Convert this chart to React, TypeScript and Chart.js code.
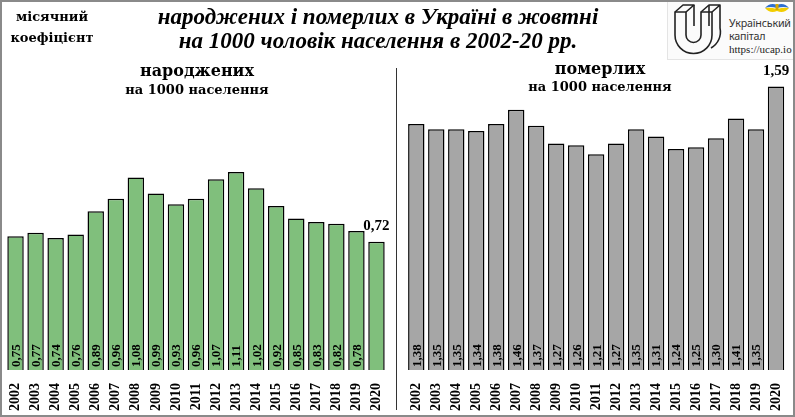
import { useRef, useEffect } from 'react';
import { Chart, registerables } from 'chart.js';

Chart.register(...registerables);

const years = ['2002', '2003', '2004', '2005', '2006', '2007', '2008', '2009', '2010', '2011', '2012', '2013', '2014', '2015', '2016', '2017', '2018', '2019', '2020'];
const births = [0.75, 0.77, 0.74, 0.76, 0.89, 0.96, 1.08, 0.99, 0.93, 0.96, 1.07, 1.11, 1.02, 0.92, 0.85, 0.83, 0.82, 0.78, 0.72];
const deaths = [1.38, 1.35, 1.35, 1.34, 1.38, 1.46, 1.37, 1.27, 1.26, 1.21, 1.27, 1.35, 1.31, 1.24, 1.25, 1.3, 1.41, 1.35, 1.59];

const SERIF = '"Liberation Serif", "Times New Roman", serif';
const WIDE_SERIF = '"DejaVu Serif", Georgia, serif';

const fmt = (v: number) => v.toFixed(2).replace('.', ',');

// підписи значень: всередині стовпчика знизу, а для останнього року — над стовпчиком
const valueLabels = {
  id: 'valueLabels',
  afterDatasetsDraw(chart: any) {
    const { ctx } = chart;
    const meta = chart.getDatasetMeta(0);
    const data = chart.data.datasets[0].data as number[];
    const last = data.length - 1;
    ctx.save();
    ctx.fillStyle = '#000';
    meta.data.forEach((bar: any, i: number) => {
      if (i === last) {
        ctx.font = `bold 15px ${SERIF}`;
        ctx.textAlign = 'center';
        ctx.textBaseline = 'bottom';
        ctx.fillText(fmt(data[i]), bar.x, bar.y - 8);
      } else {
        ctx.save();
        ctx.translate(bar.x, bar.base - 3);
        ctx.rotate(-Math.PI / 2);
        ctx.font = `bold 13px ${SERIF}`;
        ctx.textAlign = 'left';
        ctx.textBaseline = 'middle';
        ctx.fillText(fmt(data[i]), 0, 1);
        ctx.restore();
      }
    });
    ctx.restore();
  },
};

interface PanelProps {
  values: number[];
  color: string;
  left: number;
  width: number;
  padLeft: number;
  padRight: number;
}

const BarPanel = ({ values, color, left, width, padLeft, padRight }: PanelProps) => {
  const canvasRef = useRef<HTMLCanvasElement | null>(null);

  useEffect(() => {
    if (!canvasRef.current) return;
    const chart = new Chart(canvasRef.current, {
      type: 'bar',
      data: {
        labels: years,
        datasets: [
          {
            data: values,
            backgroundColor: color,
            borderColor: '#000',
            borderWidth: 1.5,
            categoryPercentage: 1,
            barPercentage: 0.82,
          },
        ],
      },
      options: {
        animation: false,
        responsive: true,
        maintainAspectRatio: false,
        layout: { padding: { top: 58, left: padLeft, right: padRight, bottom: 0 } },
        plugins: {
          legend: { display: false },
          tooltip: { enabled: false },
        },
        scales: {
          y: { display: false, min: 0, max: 1.75 },
          x: {
            grid: { display: false, drawTicks: false },
            border: { display: false },
            afterFit: (scale: any) => {
              // фіксована висота осі і без додаткових відступів від повернутих підписів
              scale.height = 47;
              scale.paddingLeft = 0;
              scale.paddingRight = 0;
            },
            ticks: {
              color: '#000',
              padding: 13,
              minRotation: 90,
              maxRotation: 90,
              autoSkip: false,
              font: { family: SERIF, weight: 'bold', size: 14 },
            },
          },
        },
      },
      plugins: [valueLabels],
    });
    return () => {
      chart.destroy();
    };
  }, []);

  return (
    <div style={{ position: 'absolute', left, top: 0, width, height: 417 }}>
      <canvas ref={canvasRef} />
    </div>
  );
};

const Logo = () => (
  <div
    style={{
      position: 'absolute',
      left: 667,
      top: 0,
      width: 128,
      height: 59,
      background: '#fbfbfb',
      borderLeft: '1px solid #e4e4e4',
      borderBottom: '1px solid #e4e4e4',
    }}
  >
    <svg width={60} height={58} style={{ position: 'absolute', left: 0, top: 0 }}>
      <g fill="none" stroke="#222" strokeWidth={1.6} strokeLinejoin="round">
        <path d="M7 12 L18 12 L18 35 A7.5 7.5 0 0 0 33 35 L33 12 L44 12 L44 35 A18.5 18.5 0 0 1 7 35 Z" />
        <path d="M7 12 L15 5 L26 5 L18 12 M33 12 L41 5 L52 5 L44 12 M52 5 L52 28 A18.5 18.5 0 0 1 43 48" />
        <path d="M26 5 L26 26" />
        <path d="M41 5 L41 26" />
      </g>
    </svg>
    <svg width={26} height={14} style={{ position: 'absolute', left: 96, top: 1 }}>
      <path d="M1 7 Q6 1 13 4 Q20 1 25 7 Q20 5 13 7 Q6 5 1 7 Z" fill="#2f6fd0" />
      <path d="M1 7 Q6 6 13 8 Q20 6 25 7 Q20 13 13 10 Q6 13 1 7 Z" fill="#f2cd00" />
      <rect x={11.5} y={3} width={3} height={6} fill="#d9a800" />
    </svg>
    <div style={{ position: 'absolute', left: 61, top: 17, font: '10.7px "Noto Sans", sans-serif', color: '#333', lineHeight: '13px', letterSpacing: '-0.2px' }}>
      Український
      <br />
      капітал
    </div>
    <div style={{ position: 'absolute', left: 61, top: 43, font: '11px "Liberation Serif", serif', color: '#222' }}>
      https://ucap.io
    </div>
  </div>
);

const App = () => {
  const center = { position: 'absolute' as const, textAlign: 'center' as const, whiteSpace: 'nowrap' as const, color: '#000' };
  return (
    <div
      style={{
        position: 'fixed',
        left: 0,
        top: 0,
        width: 795,
        height: 417,
        boxSizing: 'border-box',
        border: '2px solid #8a8a8a',
        background: '#fff',
        overflow: 'hidden',
      }}
    >
      <div style={{ position: 'absolute', left: -2, top: -2, width: 795, height: 417 }}>
        <BarPanel values={births} color="#80bf7c" left={0} width={397} padLeft={5.5} padRight={10.5} />
        <BarPanel values={deaths} color="#a6a6a6" left={397} width={398} padLeft={9.3} padRight={9} />
        <div style={{ position: 'absolute', left: 396, top: 68, width: 1, height: 342, background: '#333' }} />

        <div style={{ ...center, left: 0, width: 104, top: 6, font: `bold 13px ${WIDE_SERIF}`, lineHeight: '21px' }}>
          місячний
          <br />
          коефіцієнт
        </div>
        <div style={{ ...center, left: 128, width: 500, top: 5, font: `italic bold 23px ${SERIF}`, lineHeight: '24px' }}>
          народжених і померлих в Україні в жовтні
          <br />
          на 1000 чоловік населення в 2002-20 рр.
        </div>

        <div style={{ ...center, left: 97, width: 200, top: 61, font: `bold 16px ${WIDE_SERIF}` }}>народжених</div>
        <div style={{ ...center, left: 97, width: 200, top: 82, font: `bold 13px ${WIDE_SERIF}` }}>на 1000 населення</div>
        <div style={{ ...center, left: 500, width: 200, top: 59, font: `bold 16px ${WIDE_SERIF}` }}>померлих</div>
        <div style={{ ...center, left: 500, width: 200, top: 79, font: `bold 13px ${WIDE_SERIF}` }}>на 1000 населення</div>

        <Logo />
      </div>
    </div>
  );
};

export default App;
